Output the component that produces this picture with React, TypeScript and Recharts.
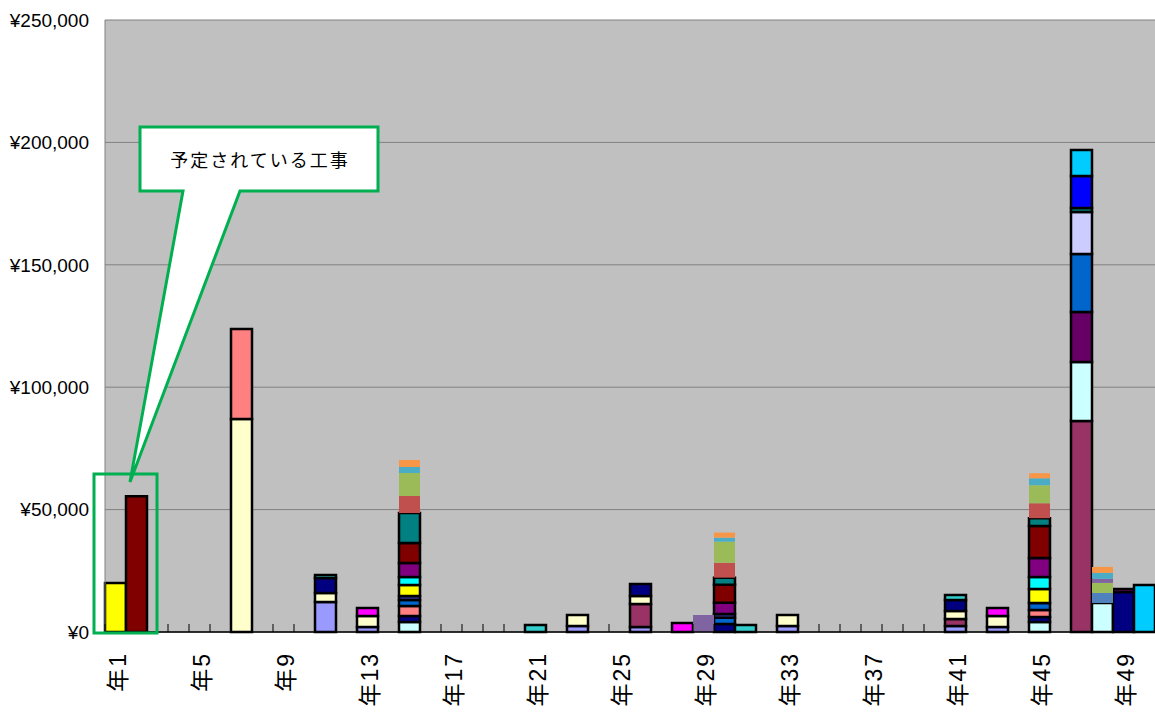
import { BarChart, Bar, XAxis, YAxis, CartesianGrid } from 'recharts';

type Pt = [number, number]; // [year, yen]

const YEARS = Array.from({ length: 50 }, (_, i) => i + 1);
const Y_TICKS = [0, 50000, 100000, 150000, 200000, 250000];

// outlined work items, stacked bottom-up in this order
const lavender: Pt[] = [[11, 12250], [13, 2050], [23, 2450], [26, 2050], [33, 2450], [41, 2450], [43, 2050]];
const plum: Pt[] = [[26, 9400], [41, 2850], [47, 86200]];
const cream: Pt[] = [[7, 87000], [11, 3700], [13, 4500], [23, 4500], [26, 3250], [33, 4500], [41, 3250], [43, 4500]];
const lightCyan: Pt[] = [[15, 4100], [45, 4100], [47, 24100], [48, 11850]];
const navy: Pt[] = [[11, 6100], [15, 2450], [26, 4900], [30, 3300], [41, 4500], [45, 2050], [49, 16350]];
const salmon: Pt[] = [[7, 36800], [15, 4100], [45, 2850]];
const darkPurple: Pt[] = [[47, 20400]];
const royal: Pt[] = [[15, 2450], [30, 2500], [45, 2850], [47, 23700]];
const indigo: Pt[] = [[15, 1650], [30, 1600]];
const yellow: Pt[] = [[1, 20000], [15, 4500], [45, 5700]];
const cyan: Pt[] = [[15, 3250], [45, 4900]];
const magenta: Pt[] = [[13, 3250], [28, 3700], [43, 3250]];
const purple: Pt[] = [[15, 5700], [30, 4500], [45, 7750], [49, 1250]];
const paleViolet: Pt[] = [[47, 17200]];
const maroon: Pt[] = [[2, 55500], [15, 8150], [30, 7400], [45, 13050]];
const teal: Pt[] = [[15, 12250], [30, 2900], [45, 3250], [47, 1600]];
const blue: Pt[] = [[47, 13100]];
const sky: Pt[] = [[47, 10600], [50, 19200]];
const turquoise: Pt[] = [[11, 1250], [21, 2850], [31, 2850], [41, 2050]];

// items drawn without outline, on top of the outlined ones
const uBlue: Pt[] = [[48, 4100]];
const uRed: Pt[] = [[15, 6950], [30, 6100], [45, 6100]];
const uGreen: Pt[] = [[15, 9400], [30, 8600], [45, 7350], [48, 4100]];
const uPurple: Pt[] = [[29, 6950], [48, 1650]];
const uAqua: Pt[] = [[15, 2450], [30, 1650], [45, 2850], [48, 2450]];
const uOrange: Pt[] = [[15, 2850], [30, 2050], [45, 2050], [48, 2450]];

const SERIES = [
  { key: 'lavender', pts: lavender, color: '#9999FF', edge: true },
  { key: 'plum', pts: plum, color: '#993366', edge: true },
  { key: 'cream', pts: cream, color: '#FFFFCC', edge: true },
  { key: 'lightCyan', pts: lightCyan, color: '#CCFFFF', edge: true },
  { key: 'navy', pts: navy, color: '#000080', edge: true },
  { key: 'salmon', pts: salmon, color: '#FF8080', edge: true },
  { key: 'darkPurple', pts: darkPurple, color: '#660066', edge: true },
  { key: 'royal', pts: royal, color: '#0066CC', edge: true },
  { key: 'indigo', pts: indigo, color: '#333399', edge: true },
  { key: 'yellow', pts: yellow, color: '#FFFF00', edge: true },
  { key: 'cyan', pts: cyan, color: '#00FFFF', edge: true },
  { key: 'magenta', pts: magenta, color: '#FF00FF', edge: true },
  { key: 'purple', pts: purple, color: '#800080', edge: true },
  { key: 'paleViolet', pts: paleViolet, color: '#CCCCFF', edge: true },
  { key: 'maroon', pts: maroon, color: '#800000', edge: true },
  { key: 'teal', pts: teal, color: '#008080', edge: true },
  { key: 'blue', pts: blue, color: '#0000FF', edge: true },
  { key: 'sky', pts: sky, color: '#00CCFF', edge: true },
  { key: 'turquoise', pts: turquoise, color: '#33CCCC', edge: true },
  { key: 'uBlue', pts: uBlue, color: '#4F81BD', edge: false },
  { key: 'uRed', pts: uRed, color: '#C0504D', edge: false },
  { key: 'uGreen', pts: uGreen, color: '#9BBB59', edge: false },
  { key: 'uPurple', pts: uPurple, color: '#8064A2', edge: false },
  { key: 'uAqua', pts: uAqua, color: '#4BACC6', edge: false },
  { key: 'uOrange', pts: uOrange, color: '#F79646', edge: false },
];

const data = YEARS.map((y) => {
  const row: Record<string, string | number> = { year: `年${y}` };
  SERIES.forEach((s) => {
    const hit = s.pts.find((p) => p[0] === y);
    row[s.key] = hit ? hit[1] : 0;
  });
  return row;
});

const W = 1155;
const H = 715;
const LEFT = 105;
const CAT_W = (W - LEFT) / YEARS.length;
const GREEN = '#00B050';
const FONT = '"Liberation Sans", "Noto Sans CJK JP", sans-serif';

const yen = (v: number) => `¥${v.toLocaleString('en-US')}`;

// tick marks sit on category boundaries, labels only every 4th year
function YearTick(props: any) {
  const { x, y, payload } = props;
  const n = parseInt(String(payload.value).slice(1), 10);
  const bx = x - CAT_W / 2;
  return (
    <g>
      <line x1={bx} x2={bx} y1={y} y2={y - 8} stroke="#000" strokeWidth={1} />
      {(n - 1) % 4 === 0 && (
        <text
          transform={`translate(${x + 2},${y + 20}) rotate(-90)`}
          textAnchor="end"
          dominantBaseline="central"
          fontSize={23}
          letterSpacing={2}
          fontFamily={FONT}
          fill="#000"
        >
          {payload.value}
        </text>
      )}
    </g>
  );
}

export default function App() {
  return (
    <div style={{ position: 'absolute', left: 0, top: 0, width: W, height: H, background: '#fff' }}>
      <BarChart
        width={W}
        height={H}
        data={data}
        margin={{ top: 20, right: 0, bottom: 0, left: 0 }}
        barCategoryGap={0}
        barGap={0}
      >
        <CartesianGrid vertical={false} stroke="#808080" fill="#C0C0C0" />
        <XAxis
          dataKey="year"
          height={83}
          interval={0}
          tickLine={false}
          tickSize={0}
          tickMargin={0}
          axisLine={{ stroke: '#000', strokeWidth: 1.5 }}
          tick={<YearTick />}
        />
        <YAxis
          width={LEFT}
          domain={[0, 250000]}
          ticks={Y_TICKS}
          tickFormatter={yen}
          tickLine={false}
          tickSize={0}
          tickMargin={16}
          axisLine={{ stroke: '#808080' }}
          tick={{ fontSize: 19, fill: '#000', fontFamily: FONT }}
        />
        {SERIES.map((s) => (
          <Bar
            key={s.key}
            dataKey={s.key}
            stackId="a"
            fill={s.color}
            stroke={s.edge ? '#000' : 'none'}
            strokeWidth={s.edge ? 2.5 : 0}
            isAnimationActive={false}
          />
        ))}
      </BarChart>
      <svg width={W} height={H} style={{ position: 'absolute', left: 0, top: 0, pointerEvents: 'none' }}>
        <path
          d="M140,127 H378 V191 H240 L130,482 L183,191 H140 Z"
          fill="#fff"
          stroke={GREEN}
          strokeWidth={3}
          strokeLinejoin="miter"
        />
        <text
          x={260}
          y={159}
          textAnchor="middle"
          dominantBaseline="central"
          fontSize={18}
          letterSpacing={2}
          fontFamily='"Noto Sans CJK JP", sans-serif'
          fill="#000"
        >
          予定されている工事
        </text>
        <rect x={94} y={474} width={63} height={159} fill="none" stroke={GREEN} strokeWidth={3} />
      </svg>
    </div>
  );
}
